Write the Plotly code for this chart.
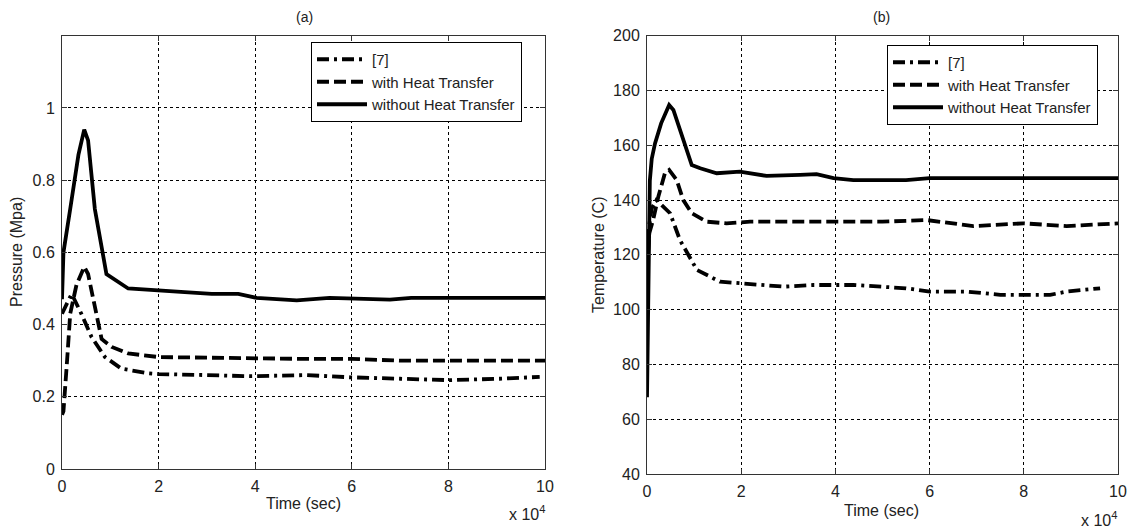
import plotly.graph_objects as go

# ---------------- data (time in units of 1e4 s) ----------------
# (a) Pressure (MPa)
t_p_ref7 = [0, 0.2, 0.4, 0.61, 0.89, 1.23, 1.79, 2.0, 3.0, 3.9, 5.06, 5.96, 7.0, 8.03, 9.06, 9.89]
p_ref7 = [0.43, 0.485, 0.43, 0.366, 0.31, 0.278, 0.265, 0.263, 0.26, 0.257, 0.26, 0.254, 0.25, 0.246, 0.25, 0.255]

t_p_with = [0, 0.03, 0.1, 0.17, 0.3, 0.46, 0.54, 0.72, 0.82, 1.03, 1.37, 2.0, 3.9, 5.0, 6.0, 7.0, 8.0, 10.0]
p_with = [0.15, 0.16, 0.29, 0.43, 0.51, 0.56, 0.54, 0.43, 0.36, 0.338, 0.32, 0.31, 0.306, 0.305, 0.305, 0.30, 0.30, 0.30]

t_p_without = [0, 0.03, 0.17, 0.34, 0.46, 0.54, 0.68, 0.92, 1.37, 2.0, 2.54, 3.1, 3.65, 4.03, 4.86, 5.54, 6.79, 7.23, 8.0, 10.0]
p_without = [0.47, 0.60, 0.72, 0.87, 0.94, 0.91, 0.72, 0.54, 0.50, 0.496, 0.49, 0.485, 0.485, 0.474, 0.467, 0.474, 0.469, 0.474, 0.474, 0.474]

# (b) Temperature (C)
t_T_ref7 = [0, 0.1, 0.2, 0.49, 0.7, 1.06, 1.55, 1.97, 2.9, 3.53, 4.38, 5.5, 6.0, 6.79, 7.5, 8.56, 8.91, 9.62]
T_ref7 = [125, 137, 140, 135.2, 125.4, 114.5, 110.2, 109.6, 108.4, 109, 109, 107.8, 106.6, 106.6, 105.4, 105.4, 106.6, 107.8]

t_T_with = [0, 0.05, 0.13, 0.24, 0.38, 0.47, 0.63, 0.77, 0.95, 1.27, 1.69, 2.19, 3.0, 4.0, 5.0, 5.94, 6.5, 6.93, 7.99, 8.91, 10.0]
T_with = [115, 128, 132.7, 141.2, 149.8, 151, 147.3, 140, 135.2, 132.1, 131.5, 132.1, 132.1, 132.1, 132.1, 132.7, 131.5, 130.5, 131.5, 130.5, 131.5]

t_T_without = [0, 0.02, 0.04, 0.06, 0.1, 0.17, 0.3, 0.47, 0.56, 0.95, 1.13, 1.48, 1.97, 2.54, 3.25, 3.6, 3.96, 4.38, 5.5, 6.0, 8.0, 10.0]
T_without = [68, 100, 130, 147, 155, 160.7, 168, 174.7, 172.9, 152.8, 151.6, 149.8, 150.4, 148.8, 149.2, 149.5, 148, 147.3, 147.3, 148, 148, 148]

series_names = ["[7]", "with Heat Transfer", "without Heat Transfer"]
x_ticks = [0, 2, 4, 6, 8, 10]
p_ticks = [0, 0.2, 0.4, 0.6, 0.8, 1]
T_ticks = [40, 60, 80, 100, 120, 140, 160, 180, 200]

SCALE = 1e4
FONT = "Liberation Sans, Arial, sans-serif"
W, H = 1130, 532

dash_styles = ["12px,5px,3px,5px", "12px,5px", "solid"]
LW = 3.8

fig = go.Figure()

left = [(t_p_ref7, p_ref7), (t_p_with, p_with), (t_p_without, p_without)]
right = [(t_T_ref7, T_ref7), (t_T_with, T_with), (t_T_without, T_without)]

for (tt, vv), name, dsh in zip(left, series_names, dash_styles):
    fig.add_trace(go.Scatter(x=[v * SCALE for v in tt], y=vv, mode="lines", name=name,
                             line=dict(color="black", width=LW, dash=dsh),
                             xaxis="x", yaxis="y", legend="legend"))
for (tt, vv), name, dsh in zip(right, series_names, dash_styles):
    fig.add_trace(go.Scatter(x=[v * SCALE for v in tt], y=vv, mode="lines", name=name,
                             line=dict(color="black", width=LW, dash=dsh),
                             xaxis="x2", yaxis="y2", legend="legend2"))

def px2x(px):
    return px / W

def px2y(py):
    return 1 - py / H

axis_common = dict(
    showline=True, linecolor="#333", linewidth=1, mirror="ticks",
    ticks="inside", ticklen=5, tickcolor="#333",
    showgrid=True, gridcolor="black", gridwidth=1, griddash="3px,3px",
    zeroline=False, automargin=False,
    tickfont=dict(family=FONT, size=16, color="#222"),
)

xt_vals = [v * SCALE for v in x_ticks]
xt_text = [str(v) for v in x_ticks]

fig.update_layout(
    template="none",
    width=W, height=H, margin=dict(l=0, r=0, t=0, b=0, autoexpand=False),
    paper_bgcolor="white", plot_bgcolor="white",
    font=dict(family=FONT, size=16, color="#222"),
    xaxis=dict(domain=[px2x(62), px2x(545)], range=[0, 10 * SCALE], anchor="y",
               tickvals=xt_vals, ticktext=xt_text, ticklabelstandoff=3, **axis_common),
    yaxis=dict(domain=[px2y(469), px2y(35.7)], range=[0, 1.2], anchor="x",
               tickvals=p_ticks, ticktext=["0", "0.2", "0.4", "0.6", "0.8", "1"],
               ticklabelstandoff=3, **axis_common),
    xaxis2=dict(domain=[px2x(647), px2x(1118)], range=[0, 10 * SCALE], anchor="y2",
                tickvals=xt_vals, ticktext=xt_text, ticklabelstandoff=3, **axis_common),
    yaxis2=dict(domain=[px2y(474), px2y(35.7)], range=[40, 200], anchor="x2",
                tickvals=T_ticks, ticklabelstandoff=3, **axis_common),
    legend=dict(x=px2x(311), y=px2y(42), xanchor="left", yanchor="top",
                bgcolor="white", bordercolor="black", borderwidth=1,
                font=dict(family=FONT, size=15, color="#222"), itemwidth=50,
                tracegroupgap=0),
    legend2=dict(x=px2x(887), y=px2y(45), xanchor="left", yanchor="top",
                 bgcolor="white", bordercolor="black", borderwidth=1,
                 font=dict(family=FONT, size=15, color="#222"), itemwidth=50,
                 tracegroupgap=0),
    showlegend=True,
)

ann = [
    dict(text="(a)", x=px2x(304), y=px2y(17), font=dict(size=14)),
    dict(text="(b)", x=px2x(882), y=px2y(17), font=dict(size=14)),
    dict(text="Time (sec)", x=px2x(303), y=px2y(503), font=dict(size=16)),
    dict(text="Time (sec)", x=px2x(882), y=px2y(510), font=dict(size=16)),
    dict(text="x 10<sup>4</sup>", x=px2x(527), y=px2y(513), font=dict(size=16)),
    dict(text="x 10<sup>4</sup>", x=px2x(1099), y=px2y(519), font=dict(size=16)),
    dict(text="Pressure (Mpa)", x=px2x(17), y=px2y(252), textangle=-90, font=dict(size=16)),
    dict(text="Temperature (C)", x=px2x(598), y=px2y(255), textangle=-90, font=dict(size=16)),
]
for a in ann:
    fig.add_annotation(xref="paper", yref="paper", showarrow=False,
                       xanchor="center", yanchor="middle", **a)

fig.write_html("out.html",
               post_script="document.body.style.margin='0';document.body.style.overflow='hidden';")
